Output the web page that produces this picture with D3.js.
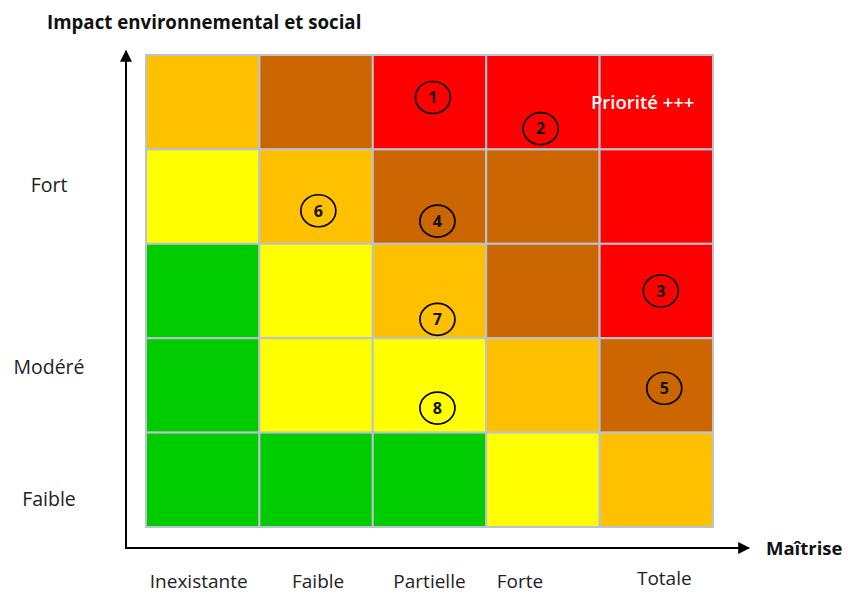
<!DOCTYPE html>
<html><head><meta charset="utf-8">
<script src="https://cdn.jsdelivr.net/npm/d3@7"></script>
<style>html,body{margin:0;padding:0;background:#fff;}svg{display:block;font-family:"Open Sans",sans-serif;}</style>
</head><body><svg id="c" width="848" height="594"></svg>
<script>
// ---- data ----
const xCategories = ["Inexistante", "Faible", "Partielle", "Forte", "Totale"];
const yTickLabels = ["Fort", "Modéré", "Faible"];
const yTickLevels = [3.62, 1.69, 0.3];
// risk class per cell, rows from top (high impact) to bottom
const riskRows = [
  ["orange", "brown", "red", "red", "red"],
  ["yellow", "orange", "brown", "brown", "red"],
  ["green", "yellow", "orange", "brown", "red"],
  ["green", "yellow", "yellow", "orange", "brown"],
  ["green", "green", "green", "yellow", "orange"]
];
const riskClasses = ["green", "yellow", "orange", "brown", "red"];
const riskColors = ["#00CC00", "#FFFF00", "#FFC000", "#CC6600", "#FF0000"];
// numbered items: maîtrise position (0-5) and impact level (0-5)
const itemIds = [1, 2, 3, 4, 5, 6, 7, 8];
const itemMaitrise = [2.53, 3.48, 4.54, 2.57, 4.57, 1.52, 2.57, 2.57];
const itemImpact = [4.55, 4.22, 2.5, 3.24, 1.47, 3.35, 2.2, 1.26];
const xAxisTitle = "Maîtrise";
const yAxisTitle = "Impact environnemental et social";
const highlightLabel = "Priorité +++";

// ---- layout ----
const svg = d3.select("#c");
const gx0 = 146, gx1 = 713, gy0 = 55, gy1 = 527;
const x = d3.scaleLinear().domain([0, 5]).range([gx0, gx1]);
const y = d3.scaleLinear().domain([0, 5]).range([gy1, gy0]);
const color = d3.scaleOrdinal().domain(riskClasses).range(riskColors);

// cells
const cells = [];
riskRows.forEach((row, r) => row.forEach((cls, c) => cells.push({c, level: 4 - r, cls})));
svg.append("g").selectAll("rect").data(cells).join("rect")
  .attr("x", d => x(d.c)).attr("y", d => y(d.level + 1))
  .attr("width", d => x(d.c + 1) - x(d.c)).attr("height", d => y(d.level) - y(d.level + 1))
  .attr("fill", d => color(d.cls))
  .attr("stroke", "#b9c3d3").attr("stroke-width", 2);

// highlight label
svg.append("text").attr("x", x(4.38)).attr("y", y(4.5)).attr("dy", "0.35em")
  .attr("text-anchor", "middle").attr("fill", "#fff").attr("font-size", 18.5).attr("font-weight", 600)
  .text(highlightLabel);

// numbered items
const items = itemIds.map((id, i) => ({id, mx: itemMaitrise[i], im: itemImpact[i]}));
const ig = svg.append("g").selectAll("g").data(items).join("g")
  .attr("transform", d => `translate(${x(d.mx)},${y(d.im)})`);
ig.append("ellipse").attr("rx", 17.5).attr("ry", 16).attr("fill", "none")
  .attr("stroke", "#000").attr("stroke-width", 1.7);
ig.append("text").attr("text-anchor", "middle").attr("dy", "0.36em")
  .attr("font-size", 16).attr("font-weight", 700).attr("fill", "#111").text(d => d.id);

// axes arrows
const axX = 126, axY = 548;
svg.append("defs").append("marker").attr("id", "arr").attr("viewBox", "0 0 10 10")
  .attr("refX", 9).attr("refY", 5).attr("markerWidth", 6).attr("markerHeight", 6)
  .attr("markerUnits", "strokeWidth").attr("orient", "auto")
  .append("path").attr("d", "M0,0 L10,5 L0,10 Z").attr("fill", "#000");
svg.append("line").attr("x1", axX).attr("y1", axY + 1).attr("x2", axX).attr("y2", 51)
  .attr("stroke", "#000").attr("stroke-width", 2).attr("marker-end", "url(#arr)");
svg.append("line").attr("x1", axX - 1).attr("y1", axY).attr("x2", 749).attr("y2", axY)
  .attr("stroke", "#000").attr("stroke-width", 2).attr("marker-end", "url(#arr)");

// axis titles
svg.append("text").attr("x", 47).attr("y", 29).attr("font-size", 18.7).attr("font-weight", 700)
  .attr("fill", "#111").text(yAxisTitle);
svg.append("text").attr("x", 766).attr("y", 555).attr("font-size", 18.5).attr("font-weight", 700)
  .attr("fill", "#111").text(xAxisTitle);

// tick labels
svg.append("g").selectAll("text").data(xCategories).join("text")
  .attr("x", (d, i) => x(i + 0.5) - [4, -2, 0, 23, -8][i]).attr("y", (d, i) => i === 4 ? 585 : 588)
  .attr("text-anchor", "middle").attr("font-size", 19).attr("fill", "#222").text(d => d);
svg.append("g").selectAll("text").data(yTickLabels).join("text")
  .attr("x", 49).attr("y", (d, i) => y(yTickLevels[i])).attr("dy", "0.35em")
  .attr("text-anchor", "middle").attr("font-size", 19.5).attr("fill", "#222").text(d => d);
</script></body></html>
